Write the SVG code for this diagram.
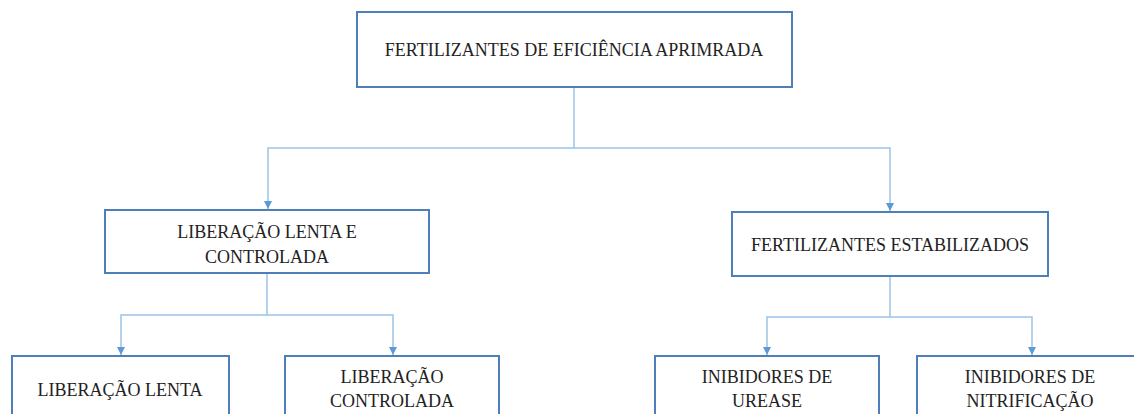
<svg xmlns="http://www.w3.org/2000/svg" width="1134" height="414" viewBox="0 0 1134 414">
<defs>
<style>
.box{fill:#fff;stroke:#4f7fb8;stroke-width:2}
.t{font-family:"Liberation Serif","DejaVu Serif",serif;font-size:18px;fill:#222;text-anchor:middle}
.c{fill:none;stroke:#9dc3e6;stroke-width:1.5}
</style>
<marker id="ah" viewBox="0 0 10 10" refX="10" refY="5" markerWidth="8" markerHeight="8" markerUnits="userSpaceOnUse" orient="auto">
<path d="M0,0 L10,5 L0,10 z" fill="#5b9bd5"/>
</marker>
</defs>
<rect width="1134" height="414" fill="#fff"/>
<g id="connectors">
<path class="c" d="M574,87 V148 H268 V209" marker-end="url(#ah)"/>
<path class="c" d="M574,148 H890 V211" marker-end="url(#ah)"/>
<path class="c" d="M267,273 V315 H121 V355" marker-end="url(#ah)"/>
<path class="c" d="M267,315 H393 V355" marker-end="url(#ah)"/>
<path class="c" d="M890,276 V317 H767 V355" marker-end="url(#ah)"/>
<path class="c" d="M890,317 H1032 V355" marker-end="url(#ah)"/>
</g>
<g id="n-root">
<rect class="box" x="357" y="12" width="435" height="75"/>
<text class="t" x="574" y="56">FERTILIZANTES DE EFICIÊNCIA APRIMRADA</text>
</g>
<g id="n-lenta-controlada">
<rect class="box" x="105" y="210" width="324" height="63"/>
<text class="t" x="267" y="238">LIBERAÇÃO LENTA E</text>
<text class="t" x="267" y="263">CONTROLADA</text>
</g>
<g id="n-estabilizados">
<rect class="box" x="732" y="212" width="316" height="64"/>
<text class="t" x="890" y="251">FERTILIZANTES ESTABILIZADOS</text>
</g>
<g id="n-lenta">
<rect class="box" x="12" y="356" width="217" height="70"/>
<text class="t" x="120" y="396">LIBERAÇÃO LENTA</text>
</g>
<g id="n-controlada">
<rect class="box" x="285" y="356" width="214" height="70"/>
<text class="t" x="392" y="383">LIBERAÇÃO</text>
<text class="t" x="392" y="407">CONTROLADA</text>
</g>
<g id="n-urease">
<rect class="box" x="655" y="356" width="224" height="70"/>
<text class="t" x="767" y="383">INIBIDORES DE</text>
<text class="t" x="767" y="407">UREASE</text>
</g>
<g id="n-nitrificacao">
<rect class="box" x="917" y="356" width="226" height="70"/>
<text class="t" x="1030" y="383">INIBIDORES DE</text>
<text class="t" x="1030" y="407">NITRIFICAÇÃO</text>
</g>
</svg>
